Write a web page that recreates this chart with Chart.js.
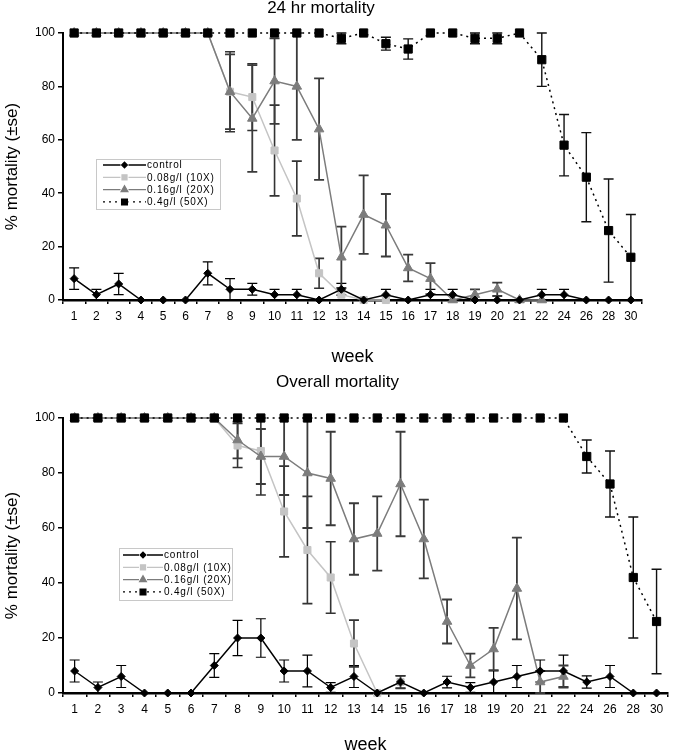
<!DOCTYPE html>
<html>
<head>
<meta charset="utf-8">
<script src="https://cdn.jsdelivr.net/npm/chart.js@4.4.1/dist/chart.umd.min.js"></script>
<style>
  html, body { margin: 0; padding: 0; background: #fff; overflow: hidden; }
  #wrap { position: relative; width: 675px; height: 752px; }
  #topChart { position: absolute; left: 0; top: 0; }
  #bottomChart { position: absolute; left: 0; top: 370px; }
</style>
</head>
<body>
<div id="wrap">
  <canvas id="topChart" width="675" height="370"></canvas>
  <canvas id="bottomChart" width="675" height="382"></canvas>
</div>
<script>
const weeks = ['1','2','3','4','5','6','7','8','9','10','11','12','13','14','15','16','17','18','19','20','21','22','24','26','28','30'];
const seriesNames = ['control', '0.08g/l (10X)', '0.16g/l (20X)', '0.4g/l (50X)'];
const yTicks = [0, 20, 40, 60, 80, 100];

// 24 hr mortality, mean and se
const control24   = [8,2,6,0,0,0,10,4,4,2,2,0,4,0,2,0,2,2,0,0,0,2,2,0,0,0];
const control24Se = [4,2,4,0,0,0,4.3,4,2.2,2,2,0,2.2,0,2,0,2,2,0,0,0,2,2,0,0,0];
const low24   = [100,100,100,100,100,100,100,78,76,56,38,10,2,0,0,null,null,null,null,null,null,null,null,null,null,null];
const low24Se = [0,0,0,0,0,0,0,15,12.5,17,14,5.6,0,0,0,null,null,null,null,null,null,null,null,null,null,null];
const mid24   = [100,100,100,100,100,100,100,78,68,82,80,64,16,32,28,12,8,0,2,4,0,0,null,null,null,null];
const mid24Se = [0,0,0,0,0,0,0,14,20,16,20,19,11.5,14.7,11.7,5,5.8,0,2,2.5,0,0,null,null,null,null];
const high24   = [100,100,100,100,100,100,100,100,100,100,100,100,98,100,96,94,100,100,98,98,100,90,58,46,26,16];
const high24Se = [0,0,0,0,0,0,0,0,0,0,0,0,2,0,2.4,3.8,0,0,2,2,0,10,11.5,16.7,19.3,16];

// overall mortality, mean and se
const controlAll   = [8,2,6,0,0,0,10,20,20,8,8,2,6,0,4,0,4,2,4,6,8,8,4,6,0,0];
const controlAllSe = [4,2,4,0,0,0,4.3,6.4,7,4,5.8,1.8,4,0,2.2,0,2.1,1.8,4,4,4,5.8,2.2,4,0,0];
const lowAll   = [100,100,100,100,100,100,100,90,88,66,52,42,18,0,4,null,null,null,null,null,null,null,null,null,null,null];
const lowAllSe = [0,0,0,0,0,0,0,8,16,16.5,19.5,13,8.5,0,2.3,null,null,null,null,null,null,null,null,null,null,null];
const midAll   = [100,100,100,100,100,100,100,92,86,86,80,78,56,58,76,56,26,10,16,38,4,6,null,null,null,null];
const midAllSe = [0,0,0,0,0,0,0,6.7,10,14,20,17,13,13.5,19,14.3,8,4.3,7.7,18.5,4,4,null,null,null,null];
const highAll   = [100,100,100,100,100,100,100,100,100,100,100,100,100,100,100,100,100,100,100,100,100,100,86,76,42,26];
const highAllSe = [0,0,0,0,0,0,0,0,0,0,0,0,0,0,0,0,0,0,0,0,0,0,6,12,22,19];

const family = "'Liberation Sans', Arial, Helvetica, sans-serif";

// look of each series: control, 0.08, 0.16, 0.4
const looks = [
  { color: '#000000', style: 'rectRot', radius: 4, dash: [], errColor: '#000', errWidth: 1.2, order: 1 },
  { color: '#c4c4c4', style: 'rect', radius: 5, dash: [], errColor: '#333', errWidth: 1.6, order: 3 },
  { color: '#7c7c7c', style: 'triangle', radius: 5.5, dash: [], errColor: '#3a3a3a', errWidth: 1.8, order: 2 },
  { color: '#000000', style: 'rect', radius: 5.8, dash: [2, 4], errColor: '#111', errWidth: 1.4, order: 0 }
];

// draws the ±se bars from each dataset's se array
const errorBars = {
  id: 'errorBars',
  beforeDatasetsDraw(chart) {
    const { ctx, scales: { x, y } } = chart;
    ctx.save();
    chart.data.datasets.forEach(ds => {
      ctx.strokeStyle = ds.errColor;
      ctx.lineWidth = ds.errWidth;
      ds.data.forEach((v, i) => {
        const se = ds.se[i];
        if (v == null || !se) return;
        const px = x.getPixelForValue(i);
        const top = y.getPixelForValue(Math.min(100, v + se));
        const bot = y.getPixelForValue(Math.max(0, v - se));
        ctx.beginPath();
        ctx.moveTo(px, top); ctx.lineTo(px, bot);
        ctx.moveTo(px - 5, top); ctx.lineTo(px + 5, top);
        ctx.moveTo(px - 5, bot); ctx.lineTo(px + 5, bot);
        ctx.stroke();
      });
    });
    ctx.restore();
  }
};

// boxed legend inside the plot area
const boxLegend = {
  id: 'boxLegend',
  afterDraw(chart, args, opts) {
    const ctx = chart.ctx;
    ctx.save();
    ctx.fillStyle = '#fff';
    ctx.fillRect(opts.x, opts.y, opts.w, opts.h);
    ctx.strokeStyle = '#c8c8c8';
    ctx.lineWidth = 1;
    ctx.strokeRect(opts.x + 0.5, opts.y + 0.5, opts.w, opts.h);
    ctx.font = '10px ' + family;
    ctx.letterSpacing = '0.8px';
    ctx.textBaseline = 'middle';
    chart.data.datasets.forEach((ds, i) => {
      const ry = opts.row0 + i * opts.rowGap;
      ctx.strokeStyle = ds.borderColor;
      ctx.lineWidth = 1.3;
      ctx.setLineDash(ds.borderDash || []);
      ctx.beginPath();
      ctx.moveTo(opts.lineX0, ry);
      ctx.lineTo(opts.lineX1, ry);
      ctx.stroke();
      ctx.setLineDash([]);
      ctx.fillStyle = ds.backgroundColor;
      ctx.strokeStyle = ds.backgroundColor;
      const mx = (opts.lineX0 + opts.lineX1) / 2;
      ctx.fillStyle = '#fff';
      ctx.fillRect(mx - 4, ry - 4, 8, 8);
      ctx.fillStyle = ds.backgroundColor;
      Chart.helpers.drawPoint(ctx, { pointStyle: ds.pointStyle, radius: ds.pointRadius * 0.7, rotation: 0, borderWidth: 1 }, mx, ry);
      ctx.fillStyle = '#000';
      ctx.fillText(ds.label, opts.lineX1 + 1, ry + 0.5);
    });
    ctx.restore();
  }
};

function makeChart(id, title, means, ses, box) {
  const datasets = means.map((d, i) => ({
    label: seriesNames[i],
    data: d,
    se: ses[i],
    errColor: looks[i].errColor,
    errWidth: looks[i].errWidth,
    order: looks[i].order,
    borderColor: looks[i].color,
    backgroundColor: looks[i].color,
    borderWidth: 1.5,
    borderDash: looks[i].dash,
    pointStyle: looks[i].style,
    pointRadius: looks[i].radius,
    pointBorderWidth: 1,
    pointBorderColor: looks[i].color,
    pointBackgroundColor: looks[i].color,
    tension: 0,
    spanGaps: false,
    clip: false
  }));

  return new Chart(document.getElementById(id), {
    type: 'line',
    data: { labels: weeks, datasets },
    options: {
      responsive: false,
      animation: false,
      devicePixelRatio: 1,
      layout: { padding: { left: 0, right: box.padRight, top: 0, bottom: 0 } },
      plugins: {
        legend: { display: false },
        tooltip: { enabled: false },
        title: {
          display: true,
          text: title,
          color: '#000',
          font: { size: 17, weight: 'normal', family, lineHeight: 1 },
          padding: { top: box.titleTop, bottom: box.titleBottom }
        },
        boxLegend: box.legend
      },
      scales: {
        x: {
          type: 'category',
          offset: true,
          afterFit: s => { s.height = box.xHeight; },
          border: { color: '#000', width: 2.5 },
          grid: { drawOnChartArea: false, offset: true, tickLength: 4, color: '#000', lineWidth: 1.5 },
          ticks: { autoSkip: false, maxRotation: 0, color: '#000', padding: 5, font: { size: 12, family } },
          title: {
            display: true, text: 'week', color: '#000',
            font: { size: 18, family, lineHeight: 1 },
            padding: { top: 0, bottom: box.weekPad }
          }
        },
        y: {
          min: 0, max: 100,
          afterFit: s => { s.width = 63; },
          afterBuildTicks: s => { s.ticks = yTicks.map(v => ({ value: v })); },
          border: { color: '#000', width: 2 },
          grid: { drawOnChartArea: false, tickLength: 5, color: '#000', lineWidth: 1.5 },
          ticks: { color: '#000', padding: 3, font: { size: 12, family } },
          title: {
            display: true, text: '% mortality (±se)', color: '#000',
            font: { size: 17, family, lineHeight: 1 },
            padding: { top: 3.5, bottom: 0 }
          }
        }
      }
    },
    plugins: [errorBars, boxLegend]
  });
}

makeChart('topChart', '24 hr mortality',
  [control24, low24, mid24, high24],
  [control24Se, low24Se, mid24Se, high24Se],
  {
    padRight: 33, titleTop: 0, titleBottom: 16, xHeight: 70, weekPad: 4,
    legend: { x: 96, y: 159, w: 124, h: 50, lineX0: 103, lineX1: 146, row0: 165, rowGap: 12.3 }
  });

makeChart('bottomChart', 'Overall mortality',
  [controlAll, lowAll, midAll, highAll],
  [controlAllSe, lowAllSe, midAllSe, highAllSe],
  {
    padRight: 0, titleTop: 3.5, titleBottom: 27.5, xHeight: 59, weekPad: -2,
    legend: { x: 119, y: 178, w: 113, h: 52, lineX0: 123, lineX1: 163, row0: 185, rowGap: 12.3 }
  });
</script>
</body>
</html>
